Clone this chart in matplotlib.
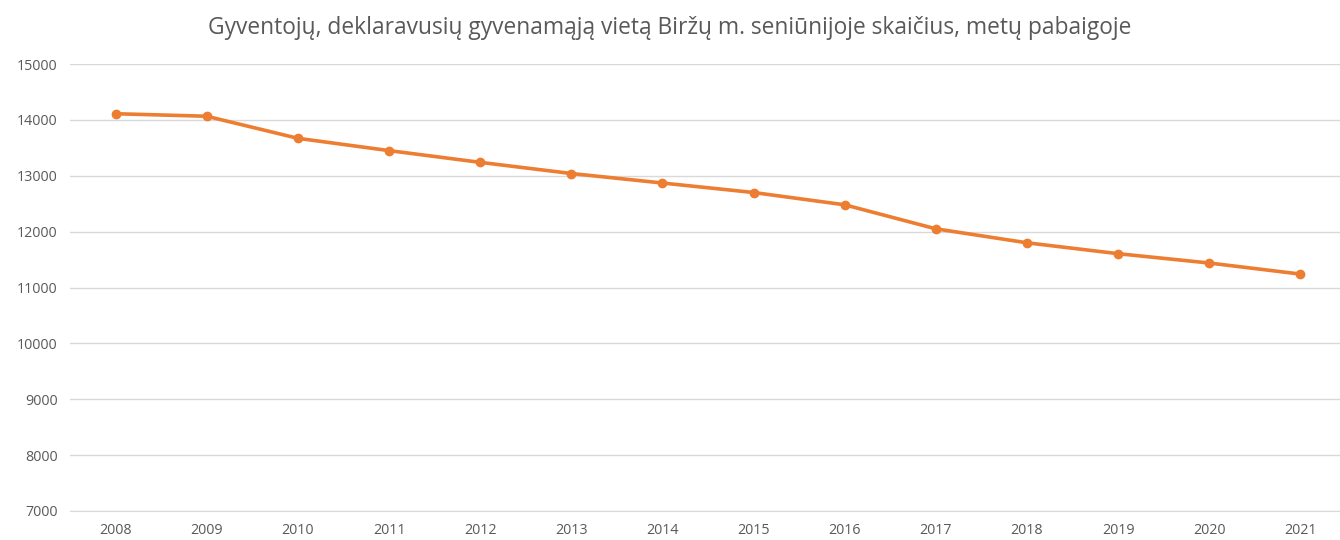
import matplotlib.pyplot as plt

years = [2008, 2009, 2010, 2011, 2012, 2013, 2014, 2015, 2016, 2017, 2018, 2019, 2020, 2021]
residents = [14110, 14065, 13670, 13450, 13240, 13040, 12870, 12700, 12480, 12050, 11800, 11605, 11438, 11240]
y_ticks = [7000, 8000, 9000, 10000, 11000, 12000, 13000, 14000, 15000]

plt.rcParams['font.family'] = ['Open Sans', 'DejaVu Sans']

fig = plt.figure(figsize=(13.4, 5.4), dpi=100)
ax = fig.add_axes([70 / 1340, 1 - 511 / 540, 1276 / 1340, (511 - 64) / 540])

ax.plot(years, residents, color='#ED7D31', linewidth=2.6, marker='o', markersize=6,
        solid_capstyle='round', zorder=3)

ax.set_xlim(years[0] - 0.5, years[-1] + 0.5)
ax.set_ylim(y_ticks[0], y_ticks[-1])
ax.set_xticks(years)
ax.set_xticklabels([str(y) for y in years])
ax.set_yticks(y_ticks)
ax.yaxis.grid(True, color='#d9d9d9', linewidth=1)
ax.set_axisbelow(True)
for s in ['top', 'right', 'left']:
    ax.spines[s].set_visible(False)
ax.spines['bottom'].set_color('#d9d9d9')
ax.tick_params(length=0, colors='#595959', labelsize=10.3)
ax.tick_params(axis='x', pad=9)
ax.tick_params(axis='y', pad=9)

fig.text(0.5, 1 - 28 / 540, 'Gyventojų, deklaravusių gyvenamąją vietą Biržų m. seniūnijoje skaičius, metų pabaigoje',
         ha='center', va='center', fontsize=16.4, color='#595959')

fig.savefig('out.png', dpi=100)
